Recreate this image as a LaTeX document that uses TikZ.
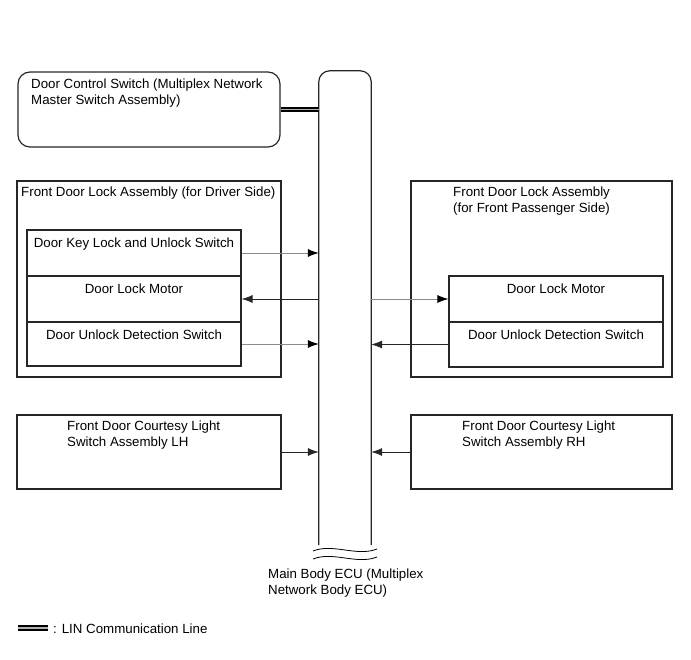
\documentclass[tikz,border=0pt]{standalone}
\usepackage{fontspec}
\setmainfont{Liberation Sans}
\usepackage{tikz}
\usetikzlibrary{positioning,arrows.meta,calc}
\definecolor{cLine}{HTML}{262626}
\definecolor{cSig}{HTML}{8C8C8C}
\tikzset{
  base/.style={draw=cLine,line width=1.2pt,inner sep=0pt},
  blk/.style={base,rectangle}, rblk/.style={base,rounded corners=12pt},
  cell/.style={base,minimum width=214,minimum height=46},
  txt/.style={align=left,inner sep=0pt,font=\fontsize{13.3}{16}\selectfont},
  ctxt/.style={txt,anchor=north,yshift=-8pt},
  arr/.style={-{Latex[length=11pt,width=8pt]},line width=0.8pt,draw=cLine},
  sarr/.style={-{Latex[length=11pt,width=8pt,color=black]},line width=0.8pt,draw=cSig},
  lin/.style={draw=black,double=cSig!70,double distance=1.4pt,line width=2.2pt}}
\begin{document}
\begin{tikzpicture}[x=1pt,y=-1pt]
\useasboundingbox (0,0) rectangle (691,660);
% main body ECU
\node[minimum width=52,minimum height=474,inner sep=0pt] (ecu) at (345,308) {};
\draw[line width=1.2pt,draw=cLine,rounded corners=11pt] (ecu.south west) |- (ecu.north) -| (ecu.south east);
\draw[line width=0.8pt] (313,551) .. controls (333,543) and (357,557) .. (377,549);
\draw[line width=0.8pt] (313,559) .. controls (333,551) and (357,565) .. (377,557);
\node[txt,anchor=west] (ecutxt) at (268,583) {Main Body ECU (Multiplex\\Network Body ECU)};
% door control switch
\node[rblk,minimum width=262,minimum height=75] (dcs) at (149,109.5) {};
\node[txt,anchor=north west] (dcstxt) at (31,79) {Door Control Switch (Multiplex Network\\Master Switch Assembly)};
\draw[lin] (dcs.east) -- (dcs.east -| ecu.west);
% driver side lock
\node[blk,minimum width=264,minimum height=196] (drv) at (149,279) {};
\node[txt,anchor=north west] (drvtxt) at (21,187) {Front Door Lock Assembly (for Driver Side)};
\node[cell] (keysw) at (134,253) {};
\node[cell] (motl) at (134,299) {};
\node[cell,minimum height=44] (unl) at (134,344) {};
\node[ctxt] (keytxt) at (keysw.north) {Door Key Lock and Unlock Switch};
\node[ctxt] (mottxt) at (motl.north) {Door Lock Motor};
\node[ctxt] (unltxt) at (unl.north) {Door Unlock Detection Switch};
\draw[sarr] (keysw.east) -- (keysw.east -| ecu.west);
\draw[arr] (motl.east -| ecu.west) -- (motl.east);
\draw[sarr] (unl.east) -- (unl.east -| ecu.west);
% passenger side lock
\node[blk,minimum width=261,minimum height=196] (psg) at (541.5,279) {};
\node[txt,anchor=north west] (psgtxt) at (453,187) {Front Door Lock Assembly\\(for Front Passenger Side)};
\node[cell] (pmot) at (556,299) {};
\node[cell,minimum height=45] (punl) at (556,344.5) {};
\node[ctxt] (pmottxt) at (pmot.north) {Door Lock Motor};
\node[ctxt] (punltxt) at (punl.north) {Door Unlock Detection Switch};
\draw[sarr] (pmot.west -| ecu.east) -- (pmot.west);
\draw[arr] (punl.west) -- (punl.west -| ecu.east);
% courtesy switches
\node[blk,minimum width=264,minimum height=74] (clh) at (149,452) {};
\node[txt,anchor=north west] (clhtxt) at (67,421) {Front Door Courtesy Light\\Switch Assembly LH};
\node[blk,minimum width=261,minimum height=74] (crh) at (541.5,452) {};
\node[txt,anchor=north west] (crhtxt) at (462,421) {Front Door Courtesy Light\\Switch Assembly RH};
\draw[arr] (clh.east) -- (clh.east -| ecu.west);
\draw[arr] (crh.west) -- (crh.west -| ecu.east);
% legend
\coordinate (lgA) at (18,628); \coordinate (lgB) at (48,628);
\draw[lin] (lgA) -- (lgB);
\node[txt,anchor=west] (lgtxt) at (53,629) {: LIN Communication Line};
\end{tikzpicture}
\end{document}
